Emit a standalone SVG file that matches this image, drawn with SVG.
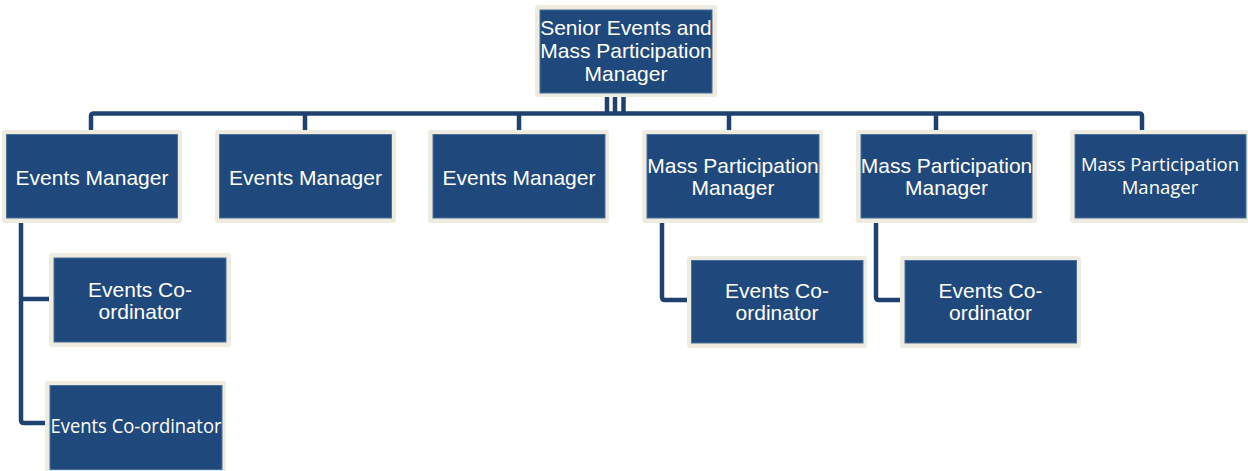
<svg xmlns="http://www.w3.org/2000/svg" width="1248" height="471" viewBox="0 0 1248 471">
<style>
.frame{fill:#EEEBE0}
.box{fill:#1F497D;stroke:#4C6F99;stroke-width:1}
.t{font-family:"Liberation Sans",Arial,sans-serif;font-size:21px;fill:#FFFFFF;text-anchor:middle}
.c{font-family:"Open Sans","Noto Sans",sans-serif;font-size:18.5px;font-weight:normal;fill:#FFFFFF;text-anchor:middle}
.ln{fill:none;stroke:#1E416F;stroke-width:4.5;stroke-linejoin:round}
</style>
<rect width="1248" height="471" fill="#FFFFFF"/>
<g id="connectors">
<path class="ln" d="M607,97 V112 M615,97 V112 M623.5,97 V112"/>
<path class="ln" d="M91,130 V116 Q91,113.5 94,113.5 H1139 Q1142,113.5 1142,116 V130"/>
<path class="ln" d="M305,113.5 V130 M519,113.5 V130 M729,113.5 V130 M936,113.5 V130"/>
<path class="ln" d="M21,223 V420 Q21,423 24,423 H46 M21,299 H49"/>
<path class="ln" d="M662,223 V297 Q662,300 665,300 H688"/>
<path class="ln" d="M876,223 V297 Q876,300 879,300 H901"/>
</g>
<g id="n0">
<rect class="frame" x="535" y="5" width="182" height="92" rx="3"/>
<rect class="box" x="540" y="10" width="172" height="83"/>
<text class="t" x="626" y="35">Senior Events and</text>
<text class="t" x="626" y="58">Mass Participation</text>
<text class="t" x="626" y="81">Manager</text>
</g>
<g id="n1">
<rect class="frame" x="2" y="130" width="180" height="93" rx="3"/>
<rect class="box" x="6.5" y="134.5" width="171" height="83.5"/>
<text class="t" x="92" y="185">Events Manager</text>
</g>
<g id="n2">
<rect class="frame" x="215" y="130" width="181" height="93" rx="3"/>
<rect class="box" x="219.5" y="134.5" width="172" height="83.5"/>
<text class="t" x="305.5" y="185">Events Manager</text>
</g>
<g id="n3">
<rect class="frame" x="428" y="130" width="181" height="93" rx="3"/>
<rect class="box" x="433" y="134.5" width="172" height="83.5"/>
<text class="t" x="519" y="185">Events Manager</text>
</g>
<g id="n4">
<rect class="frame" x="642" y="130" width="181" height="93" rx="3"/>
<rect class="box" x="647" y="134.5" width="172" height="83.5"/>
<text class="t" x="733" y="173">Mass Participation</text>
<text class="t" x="733" y="195">Manager</text>
</g>
<g id="n5">
<rect class="frame" x="856" y="130" width="181" height="93" rx="3"/>
<rect class="box" x="861" y="134.5" width="171" height="83.5"/>
<text class="t" x="946.5" y="173">Mass Participation</text>
<text class="t" x="946.5" y="195">Manager</text>
</g>
<g id="n6">
<rect class="frame" x="1070" y="130" width="182" height="93" rx="3"/>
<rect class="box" x="1075" y="134.5" width="171" height="83.5"/>
<text class="c" x="1160" y="171" textLength="158" lengthAdjust="spacingAndGlyphs">Mass Participation</text>
<text class="c" x="1160" y="194">Manager</text>
</g>
<g id="n7">
<rect class="frame" x="49" y="253" width="182" height="94" rx="3"/>
<rect class="box" x="54" y="258" width="172" height="84"/>
<text class="t" x="140" y="297">Events Co-</text>
<text class="t" x="140" y="319">ordinator</text>
</g>
<g id="n8">
<rect class="frame" x="45" y="381" width="181" height="94" rx="3"/>
<rect class="box" x="50" y="385.5" width="172" height="84"/>
<text class="c" x="136" y="433" style="font-size:19.5px" textLength="171" lengthAdjust="spacingAndGlyphs">Events Co-ordinator</text>
</g>
<g id="n9">
<rect class="frame" x="687" y="256" width="180" height="92" rx="3"/>
<rect class="box" x="691.5" y="260.5" width="171.5" height="82.5"/>
<text class="t" x="777" y="298">Events Co-</text>
<text class="t" x="777" y="320">ordinator</text>
</g>
<g id="n10">
<rect class="frame" x="900" y="256" width="181" height="92" rx="3"/>
<rect class="box" x="905" y="260.5" width="171.5" height="82.5"/>
<text class="t" x="990.5" y="298">Events Co-</text>
<text class="t" x="990.5" y="320">ordinator</text>
</g>
</svg>
